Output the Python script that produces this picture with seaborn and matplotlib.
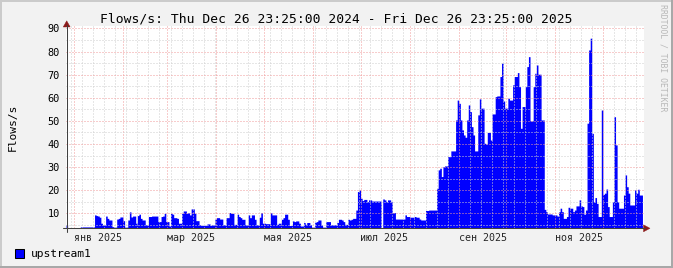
import matplotlib
matplotlib.use("Agg")
import matplotlib.pyplot as plt
import matplotlib.dates as mdates
from matplotlib.ticker import MultipleLocator, FixedLocator, NullFormatter
from matplotlib.patches import Polygon, Rectangle
from matplotlib.lines import Line2D
import numpy as np
import pandas as pd
import seaborn as sns

# ---------------- data ----------------
TITLE = "Flows/s: Thu Dec 26 23:25:00 2024 - Fri Dec 26 23:25:00 2025"
Y_LABEL = "Flows/s"
SERIES_NAME = "upstream1"
WATERMARK = "RRDTOOL / TOBI OETIKER"
range_start = "2024-12-26 23:25"
range_end = "2025-12-26 23:25"
first_day = "2024-12-27"

month_labels = ["янв 2025", "мар 2025", "мая 2025", "июл 2025", "сен 2025", "ноя 2025"]
label_dates = ["2025-01-16", "2025-03-16", "2025-05-16", "2025-07-16", "2025-09-16", "2025-11-16"]
y_ticks = [10, 20, 30, 40, 50, 60, 70, 80, 90]

# daily values (flows/s), Dec 27 2024 onwards
flows_q1 = [5.0, 3.7, 3.7, 3.7, 3.7, 3.7, 3.7, 3.7, 3.7, 4.1,
            4.1, 4.1, 4.1, 4.1, 4.1, 4.1, 4.1, 4.1, 9.3, 9.0,
            8.8, 8.3, 5.7, 5.0, 5.0, 8.8, 7.8, 7.1, 7.1, 4.2,
            4.0, 4.0, 7.5, 7.8, 8.4, 8.4, 6.8, 4.0, 4.0, 7.1,
            10.6, 8.4, 8.8, 8.8, 5.7, 9.0, 9.6, 7.8, 7.1, 7.1,
            5.0, 5.0, 8.6, 8.6, 8.8, 8.8, 8.8, 8.8, 6.4, 6.4,
            8.6, 8.8, 10.0, 6.4, 6.4, 4.5, 10.0, 9.6, 8.1, 8.1,
            7.8, 5.7, 5.7, 10.0, 11.0, 11.0, 10.0, 10.3, 9.3, 11.9,
            11.9, 10.0, 6.8, 6.8, 5.0, 4.8, 4.8, 4.8, 4.8, 5.4,
            5.4, 4.8, 5.0, 5.0]
flows_q2 = [7.5, 8.1, 8.1, 7.5, 7.5, 5.0, 5.0, 8.1, 8.1, 10.3,
            10.0, 10.0, 5.2, 5.2, 9.6, 8.6, 8.1, 7.4, 7.4, 5.0,
            5.0, 9.3, 8.1, 9.3, 9.3, 7.4, 5.0, 5.0, 8.3, 10.3,
            5.7, 5.7, 5.5, 5.5, 5.5, 10.3, 9.3, 9.3, 9.3, 5.2,
            5.7, 5.7, 7.4, 8.1, 9.6, 9.6, 7.4, 4.7, 4.7, 6.7,
            6.4, 6.7, 6.7, 5.7, 4.5, 4.5, 6.0, 5.2, 6.0, 6.0,
            5.0, 4.0, 4.0, 6.1, 6.4, 7.1, 7.1, 5.0, 4.0, 4.0,
            6.4, 6.4, 6.4, 5.0, 5.0, 5.0, 5.0, 6.0, 7.4, 7.4,
            7.1, 6.4, 5.2, 5.2, 7.4, 7.1, 7.4, 7.8, 7.8, 11.4]
flows_q3 = [19.4, 20.1, 16.5, 15.5, 16.0, 16.0, 15.0, 15.8, 15.8, 15.3,
            15.3, 15.3, 15.3, 15.3, 15.3, 0.0, 16.2, 15.8, 15.0, 15.8,
            15.8, 15.0, 10.3, 10.3, 7.5, 7.5, 7.5, 7.5, 7.5, 7.5,
            9.3, 8.6, 8.6, 8.3, 8.3, 8.3, 8.6, 8.3, 8.3, 7.5,
            7.1, 7.1, 7.1, 11.2, 11.2, 11.4, 11.4, 11.4, 11.4, 11.4,
            20.8, 28.8, 29.5, 25.9, 30.2, 30.5, 30.5, 34.5, 34.5, 37.0,
            37.0, 37.0, 50.4, 59.0, 57.6, 50.4, 46.1, 43.9, 42.9, 50.4,
            56.9, 54.0, 47.5, 43.9, 37.0, 37.0, 52.6, 59.5, 55.5, 55.5,
            40.3, 40.0, 45.0, 45.0, 41.7, 53.0, 53.0, 60.5]
flows_q4 = [60.8, 60.8, 69.2, 75.0, 58.6, 55.5, 55.5, 59.8, 59.0, 59.0,
            65.6, 69.2, 69.2, 70.9, 64.8, 46.8, 56.2, 56.2, 64.8, 73.5,
            77.8, 50.0, 50.0, 64.8, 70.6, 74.2, 70.2, 70.2, 50.4, 50.4,
            11.7, 10.7, 9.7, 9.7, 9.7, 9.3, 9.3, 9.3, 8.8, 10.7,
            12.2, 10.7, 7.8, 7.8, 8.6, 12.6, 12.2, 12.2, 10.7, 11.4,
            13.2, 13.2, 15.8, 13.2, 12.9, 9.6, 11.4, 49.0, 80.7, 85.8,
            44.6, 15.0, 16.8, 14.3, 8.6, 8.6, 54.7, 18.2, 18.7, 20.5,
            12.9, 8.6, 8.6, 15.0, 51.8, 39.6, 15.0, 12.2, 12.2, 12.2,
            17.9, 26.6, 21.5, 18.7, 13.6, 13.6, 13.6, 20.1, 18.7, 20.4,
            17.9, 17.9]

flows = flows_q1 + flows_q2 + flows_q3 + flows_q4

# ---------------- style ----------------
sns.set_style("white")
plt.rcParams["font.family"] = ["DejaVu Sans Mono", "DejaVu Sans"]

W, H = 673, 268
BG = "#f2f2f2"
AREA = "#0000ff"

def fx(px):
    return px / W

def fy(py):
    return 1 - py / H

fig = plt.figure(figsize=(W / 100, H / 100), dpi=100)
fig.patch.set_facecolor(BG)

ax_left, ax_right, ax_top, ax_bottom = 66.0, 644.0, 25.7, 228.3
ax = fig.add_axes([fx(ax_left), fy(ax_bottom), (ax_right - ax_left) / W, (ax_bottom - ax_top) / H])
ax.set_facecolor("white")

days = pd.date_range(first_day, periods=len(flows), freq="D")
day_num = mdates.date2num(days.to_pydatetime()) + 0.5
df = pd.DataFrame({"day": day_num, "flows": flows})
bin_lo = float(day_num[0] - 0.5)
bin_hi = float(day_num[-1] + 0.5)

sns.histplot(data=df, x="day", weights="flows", binwidth=1.0, binrange=(bin_lo, bin_hi),
             element="step", fill=True, color=AREA, alpha=1.0, linewidth=0, ax=ax, legend=False)

ax.set_xlim(mdates.date2num(pd.Timestamp(range_start).to_pydatetime()),
            mdates.date2num(pd.Timestamp(range_end).to_pydatetime()))
ax.set_ylim(3.5, 91.2)
ax.set_xlabel("")
ax.set_ylabel("")

# grid
ax.xaxis.set_major_locator(mdates.MonthLocator())
ax.xaxis.set_minor_locator(mdates.WeekdayLocator(byweekday=mdates.MO))
ax.xaxis.set_major_formatter(NullFormatter())
ax.xaxis.set_minor_formatter(NullFormatter())
ax.yaxis.set_major_locator(FixedLocator(y_ticks))
ax.yaxis.set_minor_locator(MultipleLocator(5))
ax.yaxis.set_minor_formatter(NullFormatter())
ax.set_axisbelow(False)
ax.grid(which="minor", color="#cfcfcf", linewidth=0.72, linestyle=(0, (1, 2)))
ax.grid(which="major", color="#f09a9a", linewidth=0.72, linestyle=(0, (1, 2)))
ax.tick_params(axis="x", which="both", length=0)
ax.tick_params(axis="y", which="both", length=0, pad=4.6, labelsize=7.4, labelcolor="#000000")
for s in ax.spines.values():
    s.set_visible(False)

# month labels
sec = ax.secondary_xaxis("bottom")
sec.set_xticks(mdates.date2num(pd.to_datetime(label_dates).to_pydatetime()), month_labels)
sec.tick_params(length=0, pad=3.2, labelsize=7.2)
sec.spines["bottom"].set_visible(False)

# axes lines + arrows
AXC = "#404040"
ARC = "#8b1a1a"
fig.add_artist(Line2D([fx(66.7), fx(66.7)], [fy(231.5), fy(25)], color=AXC, lw=0.75, transform=fig.transFigure))
fig.add_artist(Line2D([fx(63), fx(645)], [fy(228.3), fy(228.3)], color=AXC, lw=0.75, transform=fig.transFigure))
fig.add_artist(Polygon([[fx(63.2), fy(27.0)], [fx(70.2), fy(27.0)], [fx(66.7), fy(20.8)]],
                       closed=True, facecolor=ARC, edgecolor=ARC, lw=0.3, transform=fig.transFigure))
fig.add_artist(Polygon([[fx(643.5), fy(224.8)], [fx(643.5), fy(231.8)], [fx(650), fy(228.3)]],
                       closed=True, facecolor=ARC, edgecolor=ARC, lw=0.3, transform=fig.transFigure))

# texts
fig.text(fx(336.5), fy(19.2), TITLE, ha="center", va="center", fontsize=9.4, color="#000000")
fig.text(fx(12.5), fy(127.5), Y_LABEL, rotation=90, ha="center", va="center", fontsize=8.1, color="#000000")
fig.text(fx(663.5), fy(4.5), WATERMARK, rotation=-90, ha="center", va="top", fontsize=5.9, color="#b8b8b8")

# legend
fig.add_artist(Rectangle((fx(15.2), fy(258.2)), 9 / W, 9 / H, facecolor=AREA, edgecolor="#000000",
                         lw=0.75, transform=fig.transFigure))
fig.text(fx(30.5), fy(253.8), SERIES_NAME, ha="left", va="center", fontsize=8.1, color="#000000")

# frame shading
fig.add_artist(Line2D([0, 1], [fy(0.7), fy(0.7)], color="#cbcbcb", lw=1.44, transform=fig.transFigure))
fig.add_artist(Line2D([fx(0.7), fx(0.7)], [0, 1], color="#cbcbcb", lw=1.44, transform=fig.transFigure))
fig.add_artist(Line2D([0, 1], [fy(H - 0.7), fy(H - 0.7)], color="#a8a8a8", lw=1.44, transform=fig.transFigure))
fig.add_artist(Line2D([fx(W - 0.7), fx(W - 0.7)], [0, 1], color="#a8a8a8", lw=1.44, transform=fig.transFigure))

fig.savefig("out.png", dpi=100, facecolor=BG)
